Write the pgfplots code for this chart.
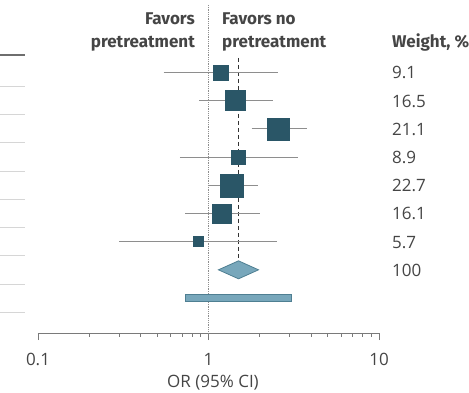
\documentclass[border=0pt]{standalone}
\usepackage{fontspec}
\setmainfont{Open Sans}
\newfontfamily\hdfont{Fira Sans}
\usepackage{pgfplots}
\pgfplotsset{compat=1.18}
\definecolor{txt}{HTML}{454545}
\definecolor{sq}{HTML}{2A5667}
\definecolor{ci}{HTML}{8E8E8E}
\definecolor{axc}{HTML}{7A7A7A}
\definecolor{dia}{HTML}{78A7BB}
\definecolor{diaedge}{HTML}{4F7F92}
\definecolor{sep}{HTML}{D6D6D6}
\definecolor{hdr}{HTML}{6E6E6E}
\newcommand\fs{\fontsize{17}{20}\selectfont}
\newcommand\hs{\hdfont\fontsize{17}{20}\selectfont\bfseries}
\begin{document}
\begin{tikzpicture}[x=1pt,y=1pt]
\useasboundingbox (0pt,0pt) rectangle (469pt,-393pt);
% table separator lines (cut-off table on the left)
\draw[hdr, line width=2pt] (0pt,-55pt) -- (25pt,-55pt);
\foreach \yy in {86.6,114.8,143,171.2,199.4,227.6,255.8,284,312.2}
  \draw[sep, line width=1pt] (0pt,-\yy pt) -- (25pt,-\yy pt);
\begin{axis}[
  at={(38pt,-333pt)}, anchor=south west, scale only axis,
  width=341pt, height=328pt,
  xmode=log, xmin=0.1, xmax=10, ymin=-10.241, ymax=1.394,
  axis x line=bottom, axis y line=none,
  axis line style={-, draw=axc, line width=0.9pt},
  xtick={0.1,1,10}, xticklabels={0.1,1,10},
  tick align=outside, major tick length=7pt,
  tick style={draw=axc, line width=0.9pt},
  xticklabel style={font=\fs, text=txt, anchor=north, inner sep=0pt},
  xticklabel shift=13pt,
  clip=false,
]
% minor ticks of the log axis (2..9 within each decade)
\pgfplotsinvokeforeach{0.2,0.3,0.4,0.5,0.6,0.7,0.8,0.9,2,3,4,5,6,7,8,9}{
  \addplot[draw=axc, line width=0.9pt] coordinates {(#1,-10.241) (#1,-10.383)};
}
% reference lines
\addplot[draw=ci, line width=0.8pt, densely dotted] coordinates {(1,1.394) (1,-10.241)};
\addplot[draw=black!80, line width=1.2pt, dash pattern=on 4.5pt off 2.5pt] coordinates {(1.5,-0.486) (1.5,-7.65)};
% confidence intervals
\addplot[draw=ci, line width=1pt] coordinates {(0.545,-1) (2.57,-1)};
\addplot[draw=ci, line width=1pt] coordinates {(0.88,-2) (2.38,-2)};
\addplot[draw=ci, line width=1pt] coordinates {(1.79,-3) (3.77,-3)};
\addplot[draw=ci, line width=1pt] coordinates {(0.68,-4) (3.34,-4)};
\addplot[draw=ci, line width=1pt] coordinates {(0.99,-5) (1.94,-5)};
\addplot[draw=ci, line width=1pt] coordinates {(0.73,-6) (2.00,-6)};
\addplot[draw=ci, line width=1pt] coordinates {(0.30,-7) (2.51,-7)};
% study estimates
\addplot[only marks, mark=square*, mark size=7.5pt, mark options={fill=sq, draw=sq}] coordinates {(1.176,-1)};
\addplot[only marks, mark=square*, mark size=10pt, mark options={fill=sq, draw=sq}] coordinates {(1.44,-2)};
\addplot[only marks, mark=square*, mark size=11pt, mark options={fill=sq, draw=sq}] coordinates {(2.58,-3)};
\addplot[only marks, mark=square*, mark size=7pt, mark options={fill=sq, draw=sq}] coordinates {(1.50,-4)};
\addplot[only marks, mark=square*, mark size=11.5pt, mark options={fill=sq, draw=sq}] coordinates {(1.37,-5)};
\addplot[only marks, mark=square*, mark size=9.5pt, mark options={fill=sq, draw=sq}] coordinates {(1.19,-6)};
\addplot[only marks, mark=square*, mark size=5pt, mark options={fill=sq, draw=sq}] coordinates {(0.87,-7)};
% pooled estimate
\addplot[fill=dia, draw=diaedge, line width=0.8pt] coordinates {(1.144,-8) (1.50,-7.681) (1.965,-8) (1.50,-8.319)} -- cycle;
% prediction interval
\addplot[fill=dia, draw=diaedge, line width=0.8pt] coordinates {(0.733,-8.876) (3.07,-8.876) (3.07,-9.124) (0.733,-9.124)} -- cycle;
\end{axis}
% headers
\node[anchor=base east, inner sep=0, font=\hs, text=txt] at (195pt,-25pt) {Favors};
\node[anchor=base east, inner sep=0, font=\hs, text=txt] at (195pt,-48pt) {pretreatment};
\node[anchor=base west, inner sep=0, font=\hs, text=txt] at (222pt,-25pt) {Favors no};
\node[anchor=base west, inner sep=0, font=\hs, text=txt] at (222pt,-48pt) {pretreatment};
\node[anchor=base west, inner sep=0, font=\hs, text=txt] at (392pt,-48pt) {Weight, \%};
% weights
\foreach \w [count=\i] in {9.1,16.5,21.1,8.9,22.7,16.1,5.7,100}
  \node[anchor=base west, inner sep=0, font=\fs, text=txt] at (392pt,{-(72.5+(\i-1)*28.19+6.5)*1pt}) {\w};
% x label
\node[anchor=base, inner sep=0, font=\fs, text=txt] at (213pt,-387pt) {OR (95\% CI)};
\end{tikzpicture}
\end{document}
